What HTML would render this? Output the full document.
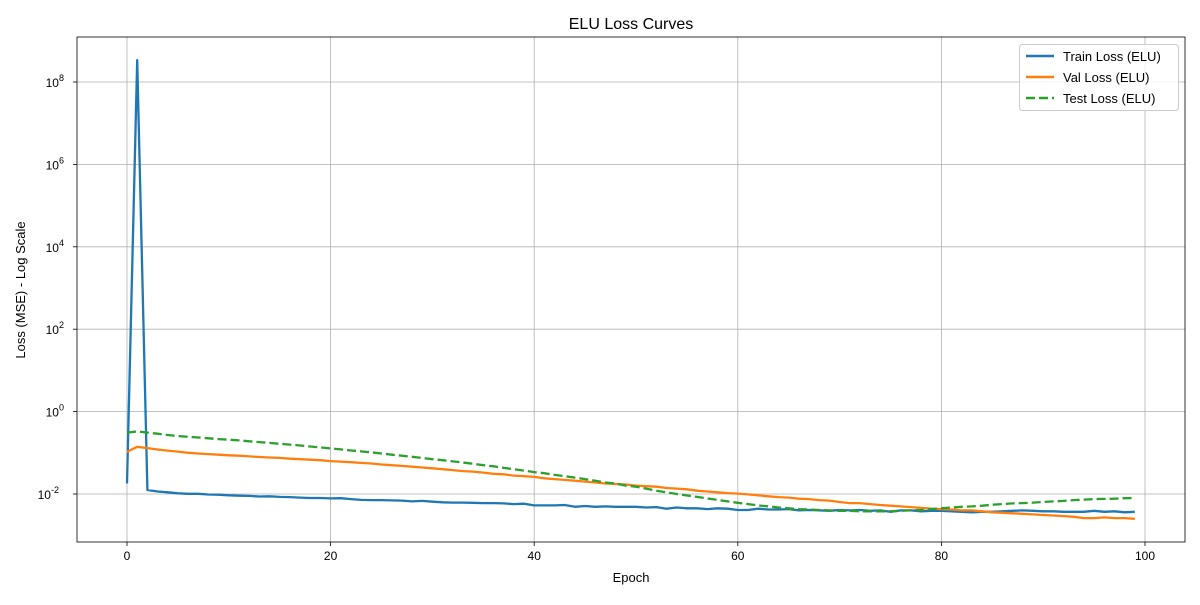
<!DOCTYPE html>
<html><head><meta charset="utf-8"><style>
body{margin:0;background:#fff}
svg{font-family:"Liberation Sans","DejaVu Sans",sans-serif}
</style></head><body>
<svg id="chart" width="1200" height="600">
<rect x="0" y="0" width="1200" height="600" fill="#fff"/>
<text x="631" y="29" font-size="16" text-anchor="middle">ELU Loss Curves</text>
<g id="grid"></g><g id="series"></g><g id="axes"></g>
<text x="631" y="582" font-size="13" text-anchor="middle">Epoch</text>
<text transform="translate(25,290) rotate(-90)" font-size="13" text-anchor="middle">Loss (MSE) - Log Scale</text>
<g>
<rect x="1019.5" y="44.5" width="159" height="66" rx="3" fill="#fff" fill-opacity="0.8" stroke="#ccc"/>
<line x1="1026" y1="56" x2="1054" y2="56" stroke="#1f77b4" stroke-width="2.5"/>
<text x="1063" y="61" font-size="13">Train Loss (ELU)</text>
<line x1="1026" y1="77" x2="1054" y2="77" stroke="#ff7f0e" stroke-width="2.5"/>
<text x="1063" y="82" font-size="13">Val Loss (ELU)</text>
<line x1="1026" y1="98" x2="1054" y2="98" stroke="#2ca02c" stroke-width="2.5" stroke-dasharray="9,4"/>
<text x="1063" y="103" font-size="13">Test Loss (ELU)</text>
</g>
</svg>
<script>
const trainLoss=[0.018,3.4e8,0.0125,0.0115,0.011,0.0104,0.0101,0.0101,0.0097,0.0096,0.0093,0.0091,0.009,0.0087,0.0088,0.0085,0.0084,0.0082,0.008,0.008,
0.0078,0.0079,0.0075,0.0072,0.0071,0.0071,0.007,0.0069,0.0066,0.0068,0.0065,0.0063,0.0062,0.0062,0.0061,0.006,0.006,0.0059,0.0057,0.0058,
0.0053,0.0053,0.0053,0.0054,0.0049,0.0051,0.0049,0.005,0.0049,0.0049,0.0049,0.0047,0.0048,0.0044,0.0047,0.0045,0.0045,0.0043,0.0045,0.0044,
0.0041,0.0041,0.0044,0.0042,0.0042,0.0043,0.004,0.0041,0.004,0.0039,0.0041,0.004,0.0041,0.0039,0.004,0.0037,0.004,0.004,0.0038,0.0039,
0.0039,0.0038,0.0037,0.0036,0.0037,0.0037,0.0038,0.0039,0.004,0.0039,0.0038,0.0038,0.0037,0.0037,0.0037,0.0039,0.0037,0.0038,0.0036,0.0037];
const valLoss=[0.105,0.14,0.13,0.12,0.113,0.107,0.1,0.096,0.093,0.09,0.087,0.085,0.082,0.079,0.077,0.075,0.072,0.07,0.068,0.066,
0.063,0.061,0.059,0.057,0.055,0.052,0.05,0.048,0.046,0.044,0.042,0.04,0.038,0.036,0.035,0.033,0.031,0.03,0.028,0.027,
0.026,0.024,0.023,0.022,0.021,0.02,0.019,0.018,0.0175,0.017,0.016,0.0155,0.015,0.014,0.0135,0.013,0.012,0.0115,0.011,0.0105,
0.0102,0.0098,0.0093,0.0088,0.0084,0.0082,0.0077,0.0075,0.0071,0.0069,0.0064,0.006,0.006,0.0057,0.0054,0.0052,0.005,0.0048,0.0046,0.0044,
0.0043,0.0042,0.004,0.004,0.0038,0.0036,0.0035,0.0034,0.0033,0.0032,0.0031,0.003,0.0029,0.0028,0.0026,0.0026,0.0027,0.0026,0.0026,0.0025];
const testLoss=[0.31,0.33,0.31,0.29,0.27,0.255,0.245,0.235,0.225,0.215,0.208,0.2,0.19,0.182,0.174,0.165,0.158,0.15,0.142,0.135,
0.128,0.121,0.114,0.108,0.102,0.096,0.09,0.085,0.08,0.075,0.07,0.066,0.062,0.058,0.054,0.05,0.047,0.043,0.04,0.037,
0.034,0.032,0.029,0.027,0.025,0.023,0.021,0.019,0.018,0.016,0.015,0.0135,0.012,0.011,0.01,0.0092,0.0085,0.0078,0.0072,0.0066,
0.0061,0.0057,0.0053,0.005,0.0047,0.0045,0.0043,0.0042,0.0041,0.004,0.0039,0.0039,0.0038,0.0038,0.0038,0.0038,0.0039,0.004,0.0041,0.0043,
0.0045,0.0047,0.0049,0.005,0.0052,0.0055,0.0057,0.0059,0.006,0.0062,0.0064,0.0066,0.0068,0.0071,0.0073,0.0075,0.0076,0.0077,0.0079,0.008];
const xTicks=[0,20,40,60,80,100];
const yTickExps=[-2,0,2,4,6,8];

const NS="http://www.w3.org/2000/svg";
const L=77,R=1185,T=37,B=542;
const xs=e=>127+(e)*(1145-127)/100;
const ys=v=>411.6-Math.log10(v)*41.2;
function mk(tag,attrs,parent){const el=document.createElementNS(NS,tag);for(const k in attrs)el.setAttribute(k,attrs[k]);parent.appendChild(el);return el;}
const grid=document.getElementById('grid'),axes=document.getElementById('axes'),series=document.getElementById('series');
xTicks.forEach(t=>{const x=xs(t);
 const g=mk('line',{x1:x,x2:x,y1:T,y2:B,stroke:'#b0b0b0','stroke-width':0.8},grid);
 
 
 mk('line',{x1:x,x2:x,y1:B,y2:B+4,stroke:'#000','stroke-width':0.8},axes);
 const tx=mk('text',{x:x,y:B+18,'font-size':12,'text-anchor':'middle'},axes);tx.textContent=t;
 
 
});
yTickExps.forEach(e=>{const y=ys(Math.pow(10,e));
 const g=mk('line',{x1:L,x2:R,y1:y,y2:y,stroke:'#b0b0b0','stroke-width':0.8},grid);
 
 
 mk('line',{x1:L-4,x2:L,y1:y,y2:y,stroke:'#000','stroke-width':0.8},axes);
 const tx=mk('text',{x:L-8,y:y+5,'font-size':12,'text-anchor':'end'},axes);
 
 
 const s1=document.createElementNS(NS,'tspan');s1.textContent='10';tx.appendChild(s1);
 const s2=document.createElementNS(NS,'tspan');s2.setAttribute('dy','-6');s2.setAttribute('font-size','9');s2.textContent=e;tx.appendChild(s2);
 tx.setAttribute('x',L-8-(String(e).length*5));
});
const fr=mk('rect',{x:L,y:T,width:R-L,height:B-T,fill:'none',stroke:'#000','stroke-width':0.8},axes);


function line(arr,color,dash,name){
 const d=arr.map((v,i)=>(i?'L':'M')+xs(i).toFixed(1)+','+ys(v).toFixed(1)).join('');
 const p=mk('path',{d:d,fill:'none',stroke:color,'stroke-width':2.3,'stroke-linejoin':'round'},series);
 if(dash)p.setAttribute('stroke-dasharray',dash);
 
 
}
line(trainLoss,'#1f77b4',null,'train-loss-line');
line(valLoss,'#ff7f0e',null,'val-loss-line');
line(testLoss,'#2ca02c','9,4','test-loss-line');
</script>
</body></html>
